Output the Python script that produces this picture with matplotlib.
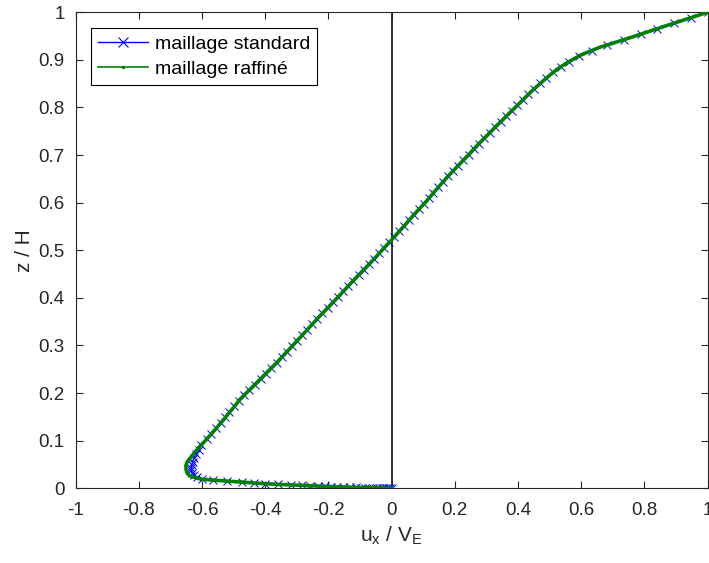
import numpy as np
import matplotlib.pyplot as plt
from matplotlib.lines import Line2D

plt.rcParams['font.family'] = ['Liberation Sans', 'DejaVu Sans']
plt.rcParams['mathtext.default'] = 'regular'

# maillage standard (z/H, ux/VE) - one entry per marker
z_std = [0.0000, 0.0001, 0.0002, 0.0003, 0.0004, 0.0005, 0.0006, 0.0007, 0.0009, 0.0011,
         0.0013, 0.0015, 0.0018, 0.0021, 0.0025, 0.0029, 0.0034, 0.0039, 0.0045, 0.0052,
         0.0060, 0.0070, 0.0082, 0.0096, 0.0112, 0.0130, 0.0150, 0.0175, 0.0205, 0.0240,
         0.0280, 0.0325, 0.0375, 0.0430, 0.0490, 0.0555, 0.0630, 0.0715, 0.0810,
         0.0915, 0.1030, 0.1145, 0.1260, 0.1375, 0.1490, 0.1605, 0.1720, 0.1835, 0.1950,
         0.2065, 0.2180, 0.2295, 0.2410, 0.2525, 0.2640, 0.2755, 0.2870, 0.2985, 0.3100,
         0.3215, 0.3330, 0.3445, 0.3560, 0.3675, 0.3790, 0.3905, 0.4020, 0.4135, 0.4250,
         0.4365, 0.4480, 0.4595, 0.4710, 0.4825, 0.4940, 0.5055, 0.5170, 0.5285, 0.5400,
         0.5515, 0.5630, 0.5745, 0.5860, 0.5975, 0.6090, 0.6205, 0.6320, 0.6435, 0.6550,
         0.6665, 0.6780, 0.6895, 0.7010, 0.7125, 0.7240, 0.7355, 0.7470, 0.7585, 0.7700,
         0.7815, 0.7930, 0.8045, 0.8160, 0.8275, 0.8390, 0.8505, 0.8620, 0.8735, 0.8850,
         0.8965, 0.9080, 0.9195, 0.9310, 0.9425, 0.9540, 0.9655, 0.9770, 0.9885, 1.0000]
ux_std = [0.000, -0.006, -0.013, -0.019, -0.026, -0.032, -0.039, -0.045, -0.058, -0.071,
          -0.084, -0.096, -0.114, -0.132, -0.155, -0.173, -0.193, -0.211, -0.232, -0.258,
          -0.283, -0.318, -0.360, -0.400, -0.437, -0.475, -0.520, -0.565, -0.600, -0.617,
          -0.627, -0.632, -0.634, -0.634, -0.633, -0.630, -0.625, -0.618, -0.609,
          -0.602, -0.586, -0.571, -0.555, -0.541, -0.526, -0.514, -0.498, -0.484, -0.468,
          -0.450, -0.433, -0.415, -0.398, -0.381, -0.364, -0.347, -0.331, -0.315, -0.299,
          -0.283, -0.267, -0.251, -0.236, -0.219, -0.202, -0.186, -0.169, -0.153, -0.137,
          -0.121, -0.104, -0.088, -0.071, -0.055, -0.039, -0.023, -0.007, 0.009, 0.024,
          0.040, 0.055, 0.070, 0.086, 0.102, 0.118, 0.132, 0.147, 0.162, 0.178,
          0.194, 0.211, 0.227, 0.244, 0.260, 0.277, 0.294, 0.311, 0.328, 0.345,
          0.363, 0.380, 0.398, 0.415, 0.433, 0.451, 0.471, 0.490, 0.511, 0.535,
          0.562, 0.593, 0.633, 0.681, 0.736, 0.789, 0.841, 0.894, 0.947, 1.000]

# maillage raffine
z_fin = [0.000, 0.002, 0.004, 0.006, 0.008, 0.010, 0.013, 0.016, 0.0175, 0.019,
         0.021, 0.023, 0.025, 0.027, 0.030, 0.035, 0.041, 0.048, 0.054, 0.059,
         0.064, 0.070, 0.078, 0.086, 0.100, 0.126, 0.150, 0.170,
         0.187, 0.227, 0.270, 0.315, 0.360, 0.400, 0.440, 0.480, 0.522, 0.550,
         0.578, 0.600, 0.625, 0.653, 0.690, 0.725, 0.760, 0.794, 0.836, 0.863,
         0.880, 0.893, 0.910, 0.926, 0.947, 0.973, 1.000]
ux_fin = [0.000, -0.120, -0.210, -0.280, -0.350, -0.410, -0.475, -0.540, -0.572, -0.598,
          -0.615, -0.625, -0.633, -0.640, -0.645, -0.649, -0.651, -0.651, -0.648, -0.643,
          -0.637, -0.630, -0.620, -0.610, -0.590, -0.555, -0.525, -0.500,
          -0.480, -0.419, -0.355, -0.292, -0.230, -0.172, -0.116, -0.058, 0.000, 0.038,
          0.075, 0.106, 0.138, 0.175, 0.228, 0.278, 0.330, 0.382, 0.446, 0.492,
          0.523, 0.553, 0.598, 0.657, 0.757, 0.875, 1.000]

labels = ['maillage standard', 'maillage raffiné']
xticks = [-1, -0.8, -0.6, -0.4, -0.2, 0, 0.2, 0.4, 0.6, 0.8, 1]
xticklabels = ['-1', '-0.8', '-0.6', '-0.4', '-0.2', '0', '0.2', '0.4', '0.6', '0.8', '1']
yticks = [0, 0.1, 0.2, 0.3, 0.4, 0.5, 0.6, 0.7, 0.8, 0.9, 1]
yticklabels = ['0', '0.1', '0.2', '0.3', '0.4', '0.5', '0.6', '0.7', '0.8', '0.9', '1']

green = '#008000'
gray = '#262626'

fig = plt.figure(figsize=(7.09, 5.63), dpi=100)
ax = fig.add_axes([0.1068, 0.1327, 0.8911, 0.8455])

ax.axvline(0, color='k', lw=1.1, zorder=1)
ax.plot(ux_std, z_std, color='b', lw=0.7, marker='x', ms=6, mew=0.7, zorder=2)
ax.plot(ux_fin, z_fin, color=green, lw=2.6, solid_joinstyle='round', zorder=3)

ax.set_xlim(-1, 1)
ax.set_ylim(0, 1)
ax.set_xticks(xticks)
ax.set_xticklabels(xticklabels)
ax.set_yticks(yticks)
ax.set_yticklabels(yticklabels)
ax.tick_params(direction='in', length=5, width=0.8, color=gray, labelcolor=gray,
               labelsize=13.5, top=True, right=True)
ax.tick_params(axis='x', pad=10)
ax.tick_params(axis='y', pad=8)
for s in ax.spines.values():
    s.set_color(gray)
    s.set_linewidth(0.8)

ax.set_xlabel(r'$u_x$ / $V_E$', fontsize=15, color=gray, labelpad=4)
ax.set_ylabel('z / H', fontsize=15, color=gray, labelpad=3)

handles = [Line2D([], [], color='b', lw=1, marker='x', ms=7, mew=0.8),
           Line2D([], [], color=green, lw=1.2, marker='.', ms=3)]
leg = ax.legend(handles, labels, loc='upper left', bbox_to_anchor=(0.0242, 0.966),
                borderaxespad=0, fontsize=14, handlelength=2.6, handletextpad=0.35,
                labelspacing=0.4, borderpad=0.35, fancybox=False, framealpha=1,
                edgecolor='k')
leg.get_frame().set_linewidth(0.8)

fig.savefig('out.png', dpi=100)
